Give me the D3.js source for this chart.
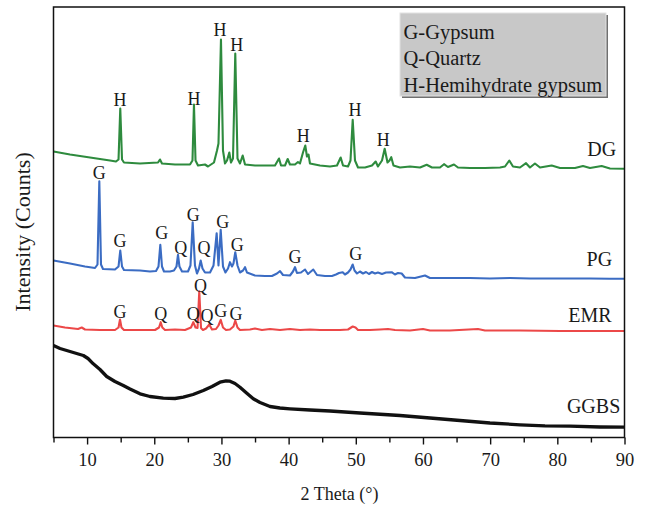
<!DOCTYPE html>
<html>
<head>
<meta charset="utf-8">
<script src="https://cdn.jsdelivr.net/npm/d3@7"></script>
<style>
  html, body { margin: 0; padding: 0; background: #ffffff; }
  svg { display: block; }
  text { font-family: "Liberation Serif", "Times New Roman", serif; fill: #1a1a1a; }
</style>
</head>
<body>
<svg id="chart" width="647" height="511"></svg>
<script>
// ---------------- DATA (2θ in degrees, intensity in arbitrary offset units) ----------------
const seriesNames = ["DG", "PG", "EMR", "GGBS"];

const dgData = [
  [5.0,286],[7.46,283],[10.43,280],[13.41,277],[14.3,276],[14.68,278],[14.94,329],[15.2,278],[15.49,275],
  [17.88,274],[20.56,275],[20.85,278],[21.15,274],[23.09,273],[25.32,273],[25.69,277],[25.91,333],[26.14,277],
  [26.51,272],[27.55,273],[28.0,271],[28.89,275],[29.34,287],[29.56,294],[29.93,398],[30.23,287],[30.53,274],
  [30.83,277],[31.17,285],[31.42,275],[31.72,279],[32.06,384],[32.39,279],[32.76,274],[33.16,282],[33.51,273],
  [35.0,272],[36.48,272],[37.97,272],[38.57,279],[38.87,272],[39.46,272],[39.86,278.5],[40.2,273],[40.95,273],
  [41.39,275.5],[41.69,274],[42.14,285],[42.48,292],[42.73,281],[42.96,283],[43.18,274],[44.67,272],[46.16,271],
  [47.2,272],[47.75,280],[48.1,272],[48.84,271],[49.21,277],[49.54,317.7],[49.88,277],[50.33,270],[51.37,270],
  [52.41,272],[52.96,276],[53.3,271],[53.9,277],[54.3,288.7],[54.72,275],[55.02,277],[55.28,280.3],[55.61,272],
  [56.58,270],[58.07,271],[59.56,270],[60.55,272.7],[61.34,270],[62.53,270],[63.13,273.3],[63.72,270.5],
  [64.62,273],[65.21,270],[67.0,269.5],[69.23,269.5],[71.47,270],[72.21,271],[72.85,277],[73.4,271],[74.44,270],
  [75.34,274.3],[75.93,270],[76.67,274],[77.42,270],[79.16,272],[80.4,269.5],[82.63,269.5],[83.82,271.5],
  [84.86,269.5],[86.6,271.5],[87.84,269],[90.0,268.7]
];

const pgData = [
  [5.0,177],[7.46,174],[9.69,171],[11.18,169.5],[11.55,173],[11.82,256.3],[12.07,173],[12.37,168.5],[14.15,168],
  [14.68,171],[14.94,187],[15.2,171],[15.49,167.5],[17.88,167],[19.36,166],[20.26,166.5],[20.63,171],[20.9,192.7],
  [21.15,171],[21.45,166],[22.34,166],[22.93,167],[23.31,171],[23.53,182.7],[23.75,171],[24.13,166],[25.02,166],
  [25.39,172],[25.72,215.3],[26.06,172],[26.36,164],[26.66,169],[26.91,177],[27.18,169],[27.55,165],[28.3,165],
  [28.82,172],[29.29,204.3],[29.56,172],[29.89,207.7],[30.23,171],[30.6,165],[30.98,169],[31.27,175.3],[31.57,171],
  [31.79,174],[32.06,185.3],[32.39,172],[32.76,165],[33.21,167],[33.51,170.3],[33.8,165],[34.99,162],[36.48,161.5],
  [37.52,161.5],[38.27,164],[38.72,166.3],[39.16,162.5],[40.2,162],[40.65,166],[40.95,170.3],[41.24,164.5],
  [41.84,165],[42.44,168],[42.88,163.5],[43.67,168],[44.22,162.5],[45.41,161.5],[46.45,161.5],[47.05,163],
  [47.5,164.5],[48.05,165.3],[48.39,163],[48.84,165],[49.21,168],[49.54,173],[49.81,167],[50.18,164],[50.62,166],
  [51.07,164],[51.52,165.5],[51.96,163.5],[52.41,165.5],[52.86,164],[53.3,165],[53.9,163.5],[54.49,165],
  [55.34,165.3],[55.83,163],[56.28,164.5],[56.83,164],[57.32,160],[58.81,159.5],[60.3,162],[61.04,159.5],
  [64.02,159.5],[67.0,159.5],[69.97,159],[72.95,159.5],[75.93,159],[78.91,159],[81.88,159],[84.86,159],
  [87.84,158.7],[90.0,158.7]
];

const emrData = [
  [5.0,112],[6.71,110],[8.65,108.5],[9.2,110],[9.69,108],[11.92,107.5],[14.15,107.5],[14.68,110],[14.9,118],
  [15.12,110],[15.49,107.5],[17.88,107.5],[20.11,107.5],[20.71,110],[20.96,115.3],[21.2,110],[21.6,107.5],
  [23.09,108],[24.57,107.5],[25.47,110],[25.81,115.3],[26.14,110],[26.44,109.5],[26.7,146.3],[26.96,109.5],
  [27.25,107.5],[27.7,109],[28.19,113],[28.59,108],[29.19,108.5],[29.56,112],[29.89,117.7],[30.23,110],
  [30.68,107.5],[31.27,108],[31.79,111],[32.06,117],[32.39,110],[32.76,107.5],[34.25,108],[34.99,109],
  [36.03,107.5],[37.23,108.5],[38.72,107.5],[40.2,108.5],[41.69,107.5],[43.18,108],[44.67,107.5],[46.16,107.5],
  [47.65,107.5],[48.84,108],[49.54,111],[49.96,110],[50.33,107.5],[52.11,107.5],[53.6,108],[54.79,108.5],
  [55.83,107.5],[58.07,107],[60.0,108.5],[61.04,107],[64.02,107],[68.18,108.5],[69.23,107],[74.44,107],
  [80.4,106.5],[86.35,106.5],[90.0,106.5]
];

const ggbsData = [
  [5.0,92],[5.97,89],[7.46,86],[9.44,82],[10.14,79],[10.92,73.7],[11.92,68],[12.92,61],[14.15,56],[15.39,52],
  [16.39,48.5],[17.88,43.7],[19.36,41],[21.34,39.3],[23.09,39],[24.32,40.3],[25.77,43],[27.3,47],[28.6,51],
  [29.78,55.3],[30.68,56.7],[31.27,56.3],[32.02,54],[32.76,50.3],[33.65,45],[34.74,38.7],[35.74,35],[37.23,31],
  [38.71,29.5],[40.2,28.7],[43.18,27.5],[46.16,26.5],[50.62,24.5],[56.58,22],[61.04,19.5],[65.51,17],
  [69.97,14.5],[74.44,12.7],[78.16,11.7],[81.88,11.3],[86.35,10.5],[90.0,10.3]
];

// peak annotations: [2θ, intensity position of label centre, text]
const dgPeakLabels = [[14.9,338,"H"],[25.91,339.3,"H"],[29.78,408,"H"],[32.27,393,"H"],[42.18,302,"H"],[49.88,327.7,"H"],[54.09,297.7,"H"]];
const pgPeakLabels = [[11.82,265.3,"G"],[14.9,197,"G"],[21.1,205.3,"G"],[23.93,190.3,"Q"],[25.81,223,"G"],[27.4,189.7,"Q"],[30.19,216.3,"G"],[32.36,192.7,"G"],[40.95,181,"G"],[49.98,184.3,"G"]];
const emrPeakLabels = [[14.9,126.3,"G"],[20.96,124,"Q"],[25.81,124,"Q"],[26.88,152,"Q"],[27.85,121.5,"Q"],[29.89,126.5,"G"],[32.17,124,"G"]];

// series name labels: [2θ, intensity, text]
const seriesLabels = [[86.6,288.5,"DG"],[86.25,178.7,"PG"],[84.85,123,"EMR"],[85.4,32,"GGBS"]];

const legendItems = ["G-Gypsum", "Q-Quartz", "H-Hemihydrate gypsum"];
const majorTicks = [10,20,30,40,50,60,70,80,90];
const minorTicks = [5,15,25,35,45,55,65,75,85];
const xTitle = "2 Theta (°)";
const yTitle = "Intensity (Counts)";

// ---------------- CHART ----------------
const svg = d3.select("#chart");
const padL = 53.5, padR = 624.5, padT = 7, padB = 437.5;
const x = d3.scaleLinear().domain([5, 90]).range([padL, padR]);
const y = d3.scaleLinear().domain([0, 430.5]).range([padB, padT]);

const colors = { DG: "#2e8b3e", PG: "#3b6cc3", EMR: "#ec4848", GGBS: "#111111" };
const widths = { DG: 2.1, PG: 2.1, EMR: 2.1, GGBS: 3.3 };
const dataMap = { DG: dgData, PG: pgData, EMR: emrData, GGBS: ggbsData };

const line = d3.line().x(d => x(d[0])).y(d => y(d[1]));

["GGBS", "EMR", "PG", "DG"].forEach(name => {
  svg.append("path")
    .datum(dataMap[name])
    .attr("fill", "none")
    .attr("stroke", colors[name])
    .attr("stroke-width", widths[name])
    .attr("stroke-linejoin", "round")
    .attr("d", line);
});

function drawLabels(arr) {
  svg.append("g").selectAll("text").data(arr).join("text")
    .attr("x", d => x(d[0]))
    .attr("y", d => y(d[1]))
    .attr("dy", "0.35em")
    .attr("text-anchor", "middle")
    .style("font-size", "18px")
    .text(d => d[2]);
}
drawLabels(dgPeakLabels);
drawLabels(pgPeakLabels);
drawLabels(emrPeakLabels);

svg.append("g").selectAll("text").data(seriesLabels).join("text")
  .attr("x", d => x(d[0]))
  .attr("y", d => y(d[1]))
  .attr("dy", "0.35em")
  .attr("text-anchor", "middle")
  .style("font-size", "20px")
  .text(d => d[2]);

const gMajor = svg.append("g").attr("transform", `translate(0,${padB})`)
  .call(d3.axisBottom(x).tickValues(majorTicks).tickSize(7).tickPadding(8).tickFormat(d3.format("d")));
gMajor.select(".domain").remove();
gMajor.selectAll("line").attr("stroke", "#111").attr("stroke-width", 1.4);
gMajor.selectAll("text").style("font-size", "18.5px").style("font-family", "'Liberation Serif', serif").attr("fill", "#1a1a1a");

const gMinor = svg.append("g").attr("transform", `translate(0,${padB})`)
  .call(d3.axisBottom(x).tickValues(minorTicks).tickSize(5).tickFormat(""));
gMinor.select(".domain").remove();
gMinor.selectAll("line").attr("stroke", "#111").attr("stroke-width", 1.4);

svg.append("rect")
  .attr("x", padL).attr("y", padT)
  .attr("width", padR - padL).attr("height", padB - padT)
  .attr("fill", "none").attr("stroke", "#111").attr("stroke-width", 1.5);

svg.append("text")
  .attr("x", (padL + padR) / 2 + 0.5).attr("y", 494)
  .attr("dy", "0.35em")
  .attr("text-anchor", "middle")
  .style("font-size", "18px")
  .text(xTitle);

svg.append("text")
  .attr("transform", "translate(22,232) rotate(-90)")
  .attr("dy", "0.35em")
  .attr("text-anchor", "middle")
  .style("font-size", "22px")
  .text(yTitle);

const lg = svg.append("g");
lg.append("rect").attr("x", 402).attr("y", 15).attr("width", 206).attr("height", 83).attr("fill", "#707070");
lg.append("rect").attr("x", 400).attr("y", 13).attr("width", 206).attr("height", 83)
  .attr("fill", "#c8c8c8").attr("stroke", "#e2e2e2").attr("stroke-width", 1);
lg.selectAll("text.leg").data(legendItems).join("text")
  .attr("class", "leg")
  .attr("x", 403.5)
  .attr("y", (d, i) => 38.5 + i * 26.7)
  .style("font-size", "20.5px")
  .text(d => d);
</script>
</body>
</html>
